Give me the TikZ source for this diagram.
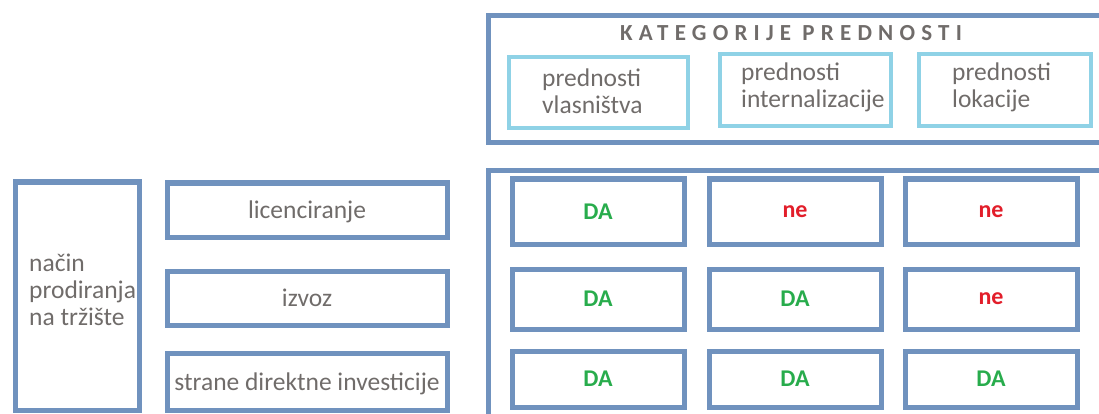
\documentclass[tikz,border=0pt]{standalone}
\usepackage{fontspec}
\setmainfont{Carlito}
\newfontfamily\spacedfont[LetterSpace=27]{Carlito}
\definecolor{dblue}{RGB}{112,146,190}
\definecolor{lblue}{RGB}{143,210,230}
\definecolor{tgray}{RGB}{112,108,106}
\definecolor{dagreen}{RGB}{40,172,76}
\definecolor{nered}{RGB}{226,30,42}
\begin{document}
\begin{tikzpicture}[x=1pt,y=-1pt,
  dbox/.style={draw=dblue, line width=5pt, rectangle, inner sep=0pt},
  lbox/.style={draw=lblue, line width=4.5pt, rectangle, inner sep=0pt},
  txt/.style={text=tgray, font=\fontsize{25.5}{27}\selectfont, align=left, inner sep=0pt},
  yes/.style={dbox, text=dagreen, font=\bfseries\fontsize{24}{26}\selectfont},
  no/.style={dbox, text=nered, font=\bfseries\fontsize{24}{26}\selectfont},
  title/.style={text=tgray, font=\spacedfont\bfseries\fontsize{23}{25}\selectfont, inner sep=0pt}]
\useasboundingbox (0,0) rectangle (1099,414);
% outer frames
\node[dbox, minimum width=627pt, minimum height=127pt] (top) at (801.5,79) {};
\node[dbox, minimum width=627pt, minimum height=269pt] (bottom) at (801.5,305.5) {};
\node[title] (kat) at (791,33) {KATEGORIJE PREDNOSTI};
% category boxes
\node[lbox, minimum width=179pt, minimum height=71pt] (c1) at (598.5,92.5) {};
\node[lbox, minimum width=171pt, minimum height=72pt] (c2) at (805.5,90) {};
\node[lbox, minimum width=172pt, minimum height=72pt] (c3) at (1005,90) {};
\node[txt, anchor=west] (c1t) at (542,91.5) {prednosti\\vlasništva};
\node[txt, anchor=west] (c2t) at (741,87.5) {prednosti\\internalizacije};
\node[txt, anchor=west] (c3t) at (952,87.5) {prednosti\\lokacije};
% left side
\node[dbox, minimum width=124pt, minimum height=228pt] (nacin) at (77,296) {};
\node[txt, anchor=west] (nacint) at (29,290) {način\\prodiranja\\na tržište};
\node[dbox, txt, text depth=0pt, minimum width=280pt, minimum height=54pt] (lic) at (307,210) {licenciranje};
\node[dbox, txt, text depth=0pt, minimum width=280pt, minimum height=54pt] (izv) at (307,298) {izvoz};
\node[dbox, txt, text depth=0pt, minimum width=280pt, minimum height=57pt] (sdi) at (307,381.5) {strane direktne investicije};
% grid
\node[yes, minimum width=172pt, minimum height=65pt] (r1a) at (598,211.5) {DA};
\node[no,  minimum width=172pt, minimum height=65pt] (r1b) at (795,211.5) {ne};
\node[no,  minimum width=172pt, minimum height=65pt] (r1c) at (991,211.5) {ne};
\node[yes, minimum width=172pt, minimum height=60pt] (r2a) at (598,299) {DA};
\node[yes, minimum width=172pt, minimum height=60pt] (r2b) at (795,299) {DA};
\node[no,  minimum width=172pt, minimum height=60pt] (r2c) at (991,299) {ne};
\node[yes, minimum width=172pt, minimum height=56pt] (r3a) at (598,379) {DA};
\node[yes, minimum width=172pt, minimum height=56pt] (r3b) at (795,379) {DA};
\node[yes, minimum width=172pt, minimum height=56pt] (r3c) at (991,379) {DA};
\end{tikzpicture}
\end{document}
